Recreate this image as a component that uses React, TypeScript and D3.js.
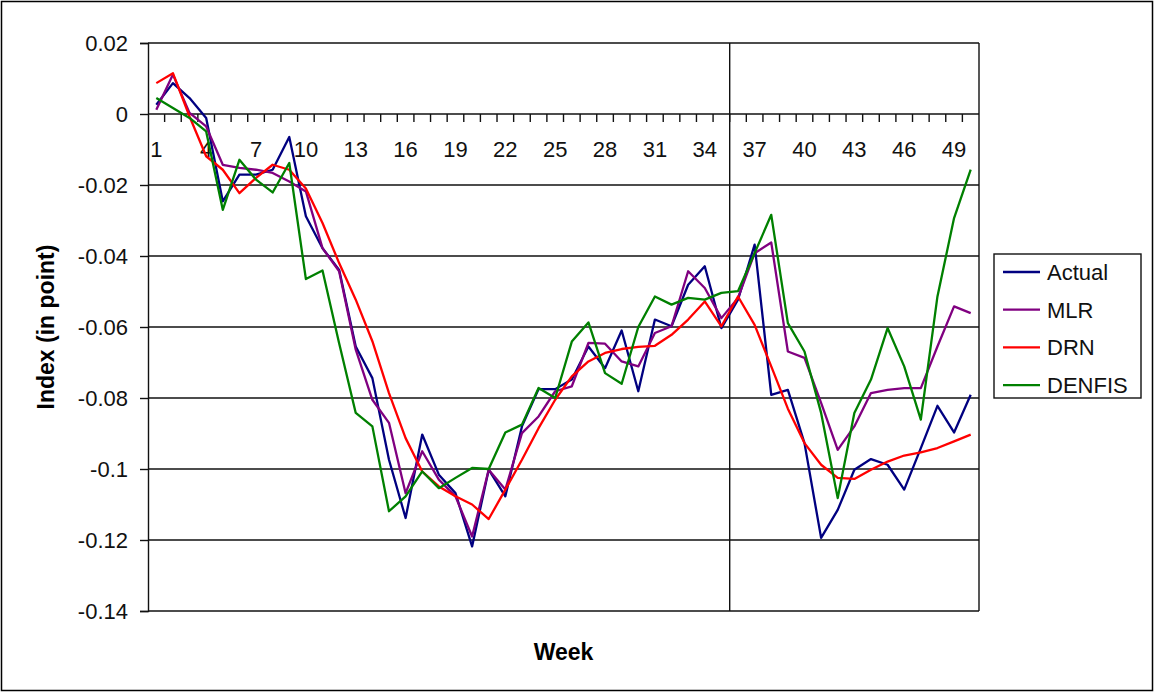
import * as d3 from 'd3';
import { useRef, useEffect } from 'react';

// weekly index values (in points)
const weeks = d3.range(1, 51);

const actual = [
  0.0026, 0.0087, 0.0045, -0.0011, -0.0246, -0.0171, -0.0171, -0.0157, -0.0065, -0.0288,
  -0.0378, -0.0439, -0.0655, -0.0744, -0.0974, -0.1138, -0.0903, -0.1016, -0.1068, -0.1218,
  -0.1002, -0.1077, -0.088, -0.0775, -0.0775, -0.0748, -0.0655, -0.0716, -0.061, -0.0781,
  -0.0579, -0.0598, -0.0481, -0.0429, -0.0603, -0.0523, -0.0368, -0.0791, -0.0777, -0.0927,
  -0.1194, -0.1115, -0.1002, -0.0972, -0.0988, -0.1058, -0.0941, -0.0822, -0.0897, -0.0791,
];

const mlr = [
  0.0012, 0.0111, 0.0003, -0.0035, -0.0143, -0.0152, -0.0157, -0.0166, -0.019, -0.0218,
  -0.0378, -0.0443, -0.0664, -0.0805, -0.087, -0.1068, -0.095, -0.103, -0.1077, -0.119,
  -0.1002, -0.1058, -0.0899, -0.0852, -0.0781, -0.0767, -0.0645, -0.0647, -0.0697, -0.0711,
  -0.0617, -0.0598, -0.0443, -0.049, -0.0575, -0.0518, -0.0392, -0.0362, -0.0669, -0.0687,
  -0.0814, -0.0946, -0.088, -0.0786, -0.0777, -0.0772, -0.0772, -0.0655, -0.0542, -0.0561,
];

const drn = [
  0.0087, 0.0115, -0.0007, -0.0119, -0.0157, -0.0223, -0.018, -0.0143, -0.0157, -0.021,
  -0.0307, -0.042, -0.0523, -0.064, -0.0786, -0.0913, -0.1007, -0.1049, -0.1077, -0.11,
  -0.1141, -0.1058, -0.0974, -0.0885, -0.0805, -0.0739, -0.0697, -0.0673, -0.0662, -0.0656,
  -0.0653, -0.0622, -0.0579, -0.0528, -0.0598, -0.0514, -0.0594, -0.0711, -0.083, -0.0927,
  -0.0988, -0.1025, -0.1028, -0.1002, -0.0979, -0.0962, -0.0953, -0.0941, -0.0922, -0.0903,
];

const denfis = [
  0.0045, 0.0017, -0.0011, -0.0049, -0.027, -0.0129, -0.0185, -0.0221, -0.0138, -0.0465,
  -0.0441, -0.0646, -0.0842, -0.088, -0.1119, -0.1077, -0.1007, -0.1054, -0.1025, -0.0997,
  -0.1, -0.0897, -0.0875, -0.0772, -0.08, -0.0641, -0.0587, -0.073, -0.076, -0.06,
  -0.0514, -0.0537, -0.0518, -0.0523, -0.0504, -0.0499, -0.0392, -0.0284, -0.0589, -0.0669,
  -0.0842, -0.1082, -0.0842, -0.0748, -0.0603, -0.0711, -0.0861, -0.0514, -0.0293, -0.0157,
];

const series = [
  { name: 'Actual', values: actual, color: '#000080' },
  { name: 'MLR', values: mlr, color: '#800080' },
  { name: 'DRN', values: drn, color: '#ff0000' },
  { name: 'DENFIS', values: denfis, color: '#008000' },
];

const yTicks = [0.02, 0, -0.02, -0.04, -0.06, -0.08, -0.1, -0.12, -0.14];
const xLabelWeeks = d3.range(1, 51, 3);
const splitWeek = 36;

const font = '"Liberation Sans", Arial, sans-serif';

function App() {
  const svgRef = useRef(null);
  const width = 1156;
  const height = 695;
  const left = 148;
  const right = 979;
  const top = 43;
  const bottom = 611;

  useEffect(() => {
    const svg = d3.select(svgRef.current);
    svg.selectAll('*').remove();

    const x = d3.scaleBand().domain(weeks).range([left, right]);
    const y = d3.scaleLinear().domain([-0.14, 0.02]).range([bottom, top]);
    const cx = (w) => x(w) + x.bandwidth() / 2;

    // outer chart border
    svg
      .append('rect')
      .attr('x', 1.5)
      .attr('y', 1.5)
      .attr('width', 1151)
      .attr('height', 689)
      .attr('fill', 'white')
      .attr('stroke', 'black')
      .attr('stroke-width', 1.5);

    // horizontal gridlines
    svg
      .append('g')
      .selectAll('line')
      .data(yTicks)
      .join('line')
      .attr('x1', left)
      .attr('x2', right)
      .attr('y1', (d) => y(d))
      .attr('y2', (d) => y(d))
      .attr('stroke', '#111')
      .attr('stroke-width', 1.4);

    // plot border right side + split line
    svg
      .append('line')
      .attr('x1', right)
      .attr('x2', right)
      .attr('y1', top)
      .attr('y2', bottom)
      .attr('stroke', '#111')
      .attr('stroke-width', 1.4);
    svg
      .append('line')
      .attr('x1', x(splitWeek))
      .attr('x2', x(splitWeek))
      .attr('y1', top)
      .attr('y2', bottom)
      .attr('stroke', '#111')
      .attr('stroke-width', 1.4);

    // y axis
    const yAxis = d3
      .axisLeft(y)
      .tickValues(yTicks)
      .tickSize(8)
      .tickPadding(12)
      .tickFormat((d) => (d === 0 ? '0' : d3.format('')(+d.toFixed(2)).replace('−', '-')));
    const gy = svg.append('g').attr('transform', `translate(${left},0)`).call(yAxis);
    gy.select('.domain').attr('stroke', '#111').attr('stroke-width', 1.4);
    gy.selectAll('.tick line').attr('stroke', '#111').attr('stroke-width', 1.4);
    gy.selectAll('text')
      .attr('font-family', font)
      .attr('font-size', 22)
      .attr('fill', '#111');

    // x axis on the zero line, ticks at category boundaries
    const gx = svg.append('g');
    gx.selectAll('line')
      .data(weeks.slice(1))
      .join('line')
      .attr('x1', (d) => x(d))
      .attr('x2', (d) => x(d))
      .attr('y1', y(0))
      .attr('y2', y(0) + 8)
      .attr('stroke', '#111')
      .attr('stroke-width', 1.4);
    gx.selectAll('text')
      .data(xLabelWeeks)
      .join('text')
      .attr('x', (d) => cx(d))
      .attr('y', y(0) + 43)
      .attr('text-anchor', 'middle')
      .attr('font-family', font)
      .attr('font-size', 22)
      .attr('fill', '#111')
      .text((d) => d);

    // series lines
    const line = d3
      .line()
      .x((d, i) => cx(weeks[i]))
      .y((d) => y(d));
    svg
      .append('g')
      .selectAll('path')
      .data(series)
      .join('path')
      .attr('d', (s) => line(s.values))
      .attr('fill', 'none')
      .attr('stroke', (s) => s.color)
      .attr('stroke-width', 2.3)
      .attr('stroke-linejoin', 'round');

    // axis titles
    svg
      .append('text')
      .attr('transform', `translate(54,${(top + bottom) / 2}) rotate(-90)`)
      .attr('text-anchor', 'middle')
      .attr('font-family', font)
      .attr('font-size', 23)
      .attr('font-weight', 'bold')
      .text('Index (in point)');
    svg
      .append('text')
      .attr('x', (left + right) / 2)
      .attr('y', 660)
      .attr('text-anchor', 'middle')
      .attr('font-family', font)
      .attr('font-size', 23)
      .attr('font-weight', 'bold')
      .text('Week');

    // legend
    const lg = svg.append('g').attr('transform', 'translate(994,254)');
    lg.append('rect')
      .attr('width', 147)
      .attr('height', 144)
      .attr('fill', 'white')
      .attr('stroke', '#111')
      .attr('stroke-width', 1.4);
    const item = lg
      .selectAll('g.item')
      .data(series)
      .join('g')
      .attr('class', 'item')
      .attr('transform', (d, i) => `translate(0,${18 + i * 37.7})`);
    item
      .append('line')
      .attr('x1', 9)
      .attr('x2', 46)
      .attr('stroke', (d) => d.color)
      .attr('stroke-width', 2.3);
    item
      .append('text')
      .attr('x', 53)
      .attr('dy', '0.36em')
      .attr('font-family', font)
      .attr('font-size', 22)
      .attr('fill', '#111')
      .text((d) => d.name);
  }, []);

  return (
    <svg
      ref={svgRef}
      width={width}
      height={height}
      style={{ position: 'absolute', left: 0, top: 0 }}
    ></svg>
  );
}

export default App;
